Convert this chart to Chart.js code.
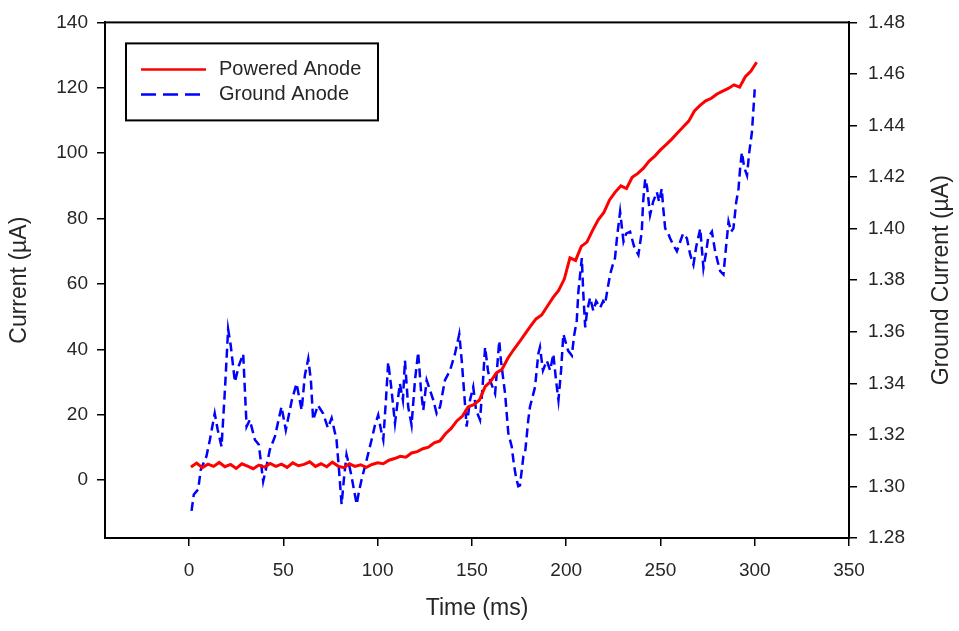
<!DOCTYPE html>
<html>
<head>
<meta charset="utf-8">
<script src="https://cdn.jsdelivr.net/npm/chart.js@4.4.1/dist/chart.umd.min.js"></script>
<style>
  html, body { margin: 0; padding: 0; background: #fff; }
</style>
</head>
<body>
<canvas id="graph" width="959" height="631"></canvas>
<script>
// powered anode (left axis, uA)
var poweredTime = [1,4,7,10,13,16,19,22,25,28,31,34,37,40,43,46,49,52,55,58,61,64,67,70,73,76,79,82,85,88,91,94,97,100,
  103,106,109,112,115,118,121,124,127,130,133,136,139,142,145,148,151,154,157,160,163,166,169,172,175,178,181,184,187,190,
  193,196,199,202,205,208,211,214,217,220,223,226,229,232,235,238,241,244,247,250,253,256,259,262,265,268,271,274,277,280,
  283,286,289,292,295,298,301];
var poweredCurrent = [4.0,5.2,3.8,4.9,4.2,5.4,4.1,4.8,3.6,5.0,4.3,3.5,4.6,4.0,5.1,4.2,4.9,3.9,5.3,4.4,4.8,5.6,4.2,5.0,4.1,5.5,
  4.3,3.8,5.0,4.2,4.7,3.9,4.8,5.3,5.0,6.1,6.6,7.3,7.0,8.3,8.7,9.6,10.1,11.4,12.0,14.2,15.8,18.1,19.6,22.4,23.1,24.5,28.6,30.2,
  32.8,33.9,37.2,39.8,42.1,44.6,47.0,49.3,50.5,53.2,55.8,58.0,61.5,68.0,67.2,71.5,72.8,76.4,79.6,81.9,85.7,88.1,90.0,89.2,
  92.6,93.8,95.4,97.6,99.1,101.0,102.6,104.3,106.2,108.0,109.8,112.9,114.6,116.0,116.8,118.1,119.0,119.8,120.9,120.2,123.4,
  125.1,127.8];

// ground anode (right axis, uA)
var groundTime = [1.3,2.5,4.8,6.2,9.2,11.0,13.6,15.2,17.2,19.0,20.7,22.1,24.3,26.4,28.7,30.5,32.2,34.9,37.0,39.3,40.7,42.8,
  45.5,49.0,51.3,54.5,57.0,59.7,61.4,63.2,64.6,65.8,68.3,71.1,73.6,75.6,78.2,79.5,80.9,82.1,83.5,84.8,86.2,87.4,88.9,90.1,
  91.5,93.8,96.8,98.6,100.3,101.8,103.0,104.4,105.6,107.1,109.2,111.8,113.4,114.5,116.2,118.0,119.8,121.5,123.0,124.2,126.0,
  127.8,129.5,131.3,133.1,135.7,138.4,141.0,143.3,144.6,145.8,147.2,149.0,150.7,152.2,154.3,155.9,157.0,158.5,159.6,162.3,
  164.5,165.4,167.6,169.3,171.1,172.3,173.4,174.6,175.5,177.3,178.2,179.9,180.8,183.5,185.2,186.1,187.7,189.7,191.5,193.2,
  194.6,195.9,197.3,198.5,201.0,203.0,204.2,205.6,206.5,208.3,209.0,210.1,211.1,212.7,214.4,215.9,218.0,219.6,220.6,222.2,
  223.3,224.9,225.9,227.0,228.6,230.4,231.8,233.9,236.0,238.3,240.1,240.8,241.9,242.9,244.5,246.1,248.1,249.3,250.7,251.4,
  252.5,254.1,255.1,256.7,258.7,260.5,262.0,264.0,265.8,267.5,269.0,271.1,272.8,274.3,275.3,277.3,279.0,280.6,281.7,283.4,
  284.3,286.1,287.5,288.7,290.2,291.4,292.3,293.2,294.4,295.9,297.1,298.5,299.2,300.0];
var groundCurrent = [1.2905,1.2969,1.2988,1.3065,1.3117,1.3180,1.3283,1.3219,1.3155,1.3373,1.3610,1.3546,1.3405,1.3469,
  1.3514,1.3232,1.3258,1.3181,1.3162,1.3020,1.3065,1.3142,1.3193,1.3309,1.3219,1.3335,1.3399,1.3296,1.3431,1.3495,1.3412,
  1.3258,1.3315,1.3283,1.3227,1.3265,1.3181,1.3065,1.2931,1.3027,1.3123,1.3085,1.3038,1.2988,1.2931,1.2981,1.3027,1.3092,
  1.3181,1.3238,1.3277,1.3219,1.3181,1.3335,1.3482,1.3392,1.3245,1.3399,1.3335,1.3488,1.3309,1.3238,1.3412,1.3520,1.3373,
  1.3296,1.3412,1.3373,1.3335,1.3283,1.3309,1.3412,1.3450,1.3514,1.3591,1.3488,1.3373,1.3232,1.3335,1.3386,1.3296,1.3258,
  1.3412,1.3540,1.3450,1.3412,1.3360,1.3565,1.3488,1.3360,1.3207,1.3155,1.3085,1.3035,1.3001,1.3004,1.3117,1.3130,1.3258,
  1.3309,1.3386,1.3514,1.3540,1.3450,1.3488,1.3450,1.3514,1.3412,1.3335,1.3450,1.3591,1.3527,1.3508,1.3585,1.3642,1.3758,
  1.3886,1.3758,1.3617,1.3681,1.3732,1.3681,1.3719,1.3693,1.3719,1.3707,1.3777,1.3822,1.3865,1.3886,1.3969,1.4065,1.3950,
  1.3981,1.3988,1.3931,1.3899,1.3988,1.4104,1.4193,1.4162,1.4053,1.4104,1.4142,1.4104,1.4155,1.4085,1.4001,1.3981,1.3963,
  1.3938,1.3912,1.3950,1.3981,1.3963,1.3899,1.3860,1.3931,1.4000,1.3847,1.3912,1.3965,1.3988,1.3912,1.3865,1.3835,1.3822,
  1.3892,1.4027,1.3988,1.4001,1.4104,1.4155,1.4238,1.4296,1.4238,1.4207,1.4296,1.4373,1.4450,1.4540];

var timeTicks = [0,50,100,150,200,250,300,350];
var currentTicks = [0,20,40,60,80,100,120,140];
var groundTicks = [1.28,1.30,1.32,1.34,1.36,1.38,1.40,1.42,1.44,1.46,1.48];

var labels = ['Powered Anode','Ground Anode'];

function pairs(xs, ys) {
  var out = [];
  for (var i in xs) out.push({x: xs[i], y: ys[i]});
  return out;
}

var FONT = '"Liberation Sans", Arial, sans-serif';
var TXT = '#262626';

var setTicks = function (list) {
  return function (scale) {
    scale.ticks = list.map(function (v) { return {value: v}; });
  };
};

// frame, inside legend and right title (needs bottom-to-top rotation)
var extras = {
  id: 'extras',
  afterDraw: function (chart) {
    var ctx = chart.ctx, a = chart.chartArea;
    ctx.save();
    ctx.strokeStyle = '#000';
    ctx.lineWidth = 2;
    ctx.strokeRect(a.left, a.top, a.right - a.left, a.bottom - a.top);

    // legend box
    var bx = a.left + 21, by = a.top + 21;
    ctx.strokeRect(bx, by, 252, 77);
    ctx.lineWidth = 2.5;
    ctx.strokeStyle = '#ff0000';
    ctx.beginPath(); ctx.moveTo(bx + 15, by + 26); ctx.lineTo(bx + 80, by + 26); ctx.stroke();
    ctx.strokeStyle = '#0000ff';
    ctx.setLineDash([15, 7]);
    ctx.beginPath(); ctx.moveTo(bx + 15, by + 51); ctx.lineTo(bx + 74, by + 51); ctx.stroke();
    ctx.setLineDash([]);
    ctx.fillStyle = TXT;
    ctx.font = '20px ' + FONT;
    ctx.textBaseline = 'middle';
    ctx.textAlign = 'left';
    ctx.fillText(labels[0], bx + 93, by + 26);
    ctx.fillText(labels[1], bx + 93, by + 51);

    // right axis title
    ctx.translate(942, (a.top + a.bottom) / 2);
    ctx.rotate(-Math.PI / 2);
    ctx.textAlign = 'center';
    ctx.font = '23px ' + FONT;
    ctx.fillText('Ground Current (\u00b5A)', 0, 0);
    ctx.restore();
  }
};

var tickGrid = {drawOnChartArea: false, drawTicks: true, tickLength: 8, color: '#000', lineWidth: 1.5};

var ctx = document.getElementById('graph');
var graph = new Chart(ctx, {
  type: 'line',
  data: {
    datasets: [
      {
        label: labels[0],
        data: pairs(poweredTime, poweredCurrent),
        yAxisID: 'y',
        borderColor: '#ff0000',
        borderWidth: 3,
        pointRadius: 0,
        tension: 0
      },
      {
        label: labels[1],
        data: pairs(groundTime, groundCurrent),
        yAxisID: 'y2',
        borderColor: '#0000ff',
        borderWidth: 2.5,
        borderDash: [9, 5],
        pointRadius: 0,
        tension: 0
      }
    ]
  },
  options: {
    responsive: false,
    animation: false,
    devicePixelRatio: 1,
    layout: {padding: {top: 19, left: 0, right: 0, bottom: 0}},
    plugins: {legend: {display: false}, tooltip: {enabled: false}},
    scales: {
      x: {
        type: 'linear',
        min: -44.6,
        max: 350,
        afterBuildTicks: setTicks(timeTicks),
        afterFit: function (s) { s.height = 93; },
        grid: tickGrid,
        border: {color: '#000', width: 2},
        ticks: {color: TXT, font: {family: FONT, size: 19}, padding: 13, maxRotation: 0},
        title: {display: true, text: 'Time (ms)', color: TXT, font: {family: FONT, size: 23}, padding: {top: 0, bottom: 9}}
      },
      y: {
        position: 'left',
        min: -17.7,
        max: 140,
        afterBuildTicks: setTicks(currentTicks),
        afterFit: function (s) { s.width = 105; },
        grid: tickGrid,
        border: {color: '#000', width: 2},
        ticks: {color: TXT, font: {family: FONT, size: 19}, padding: 9},
        title: {display: true, text: 'Current (\u00b5A)', color: TXT, font: {family: FONT, size: 23}, padding: {top: 6, bottom: 0}}
      },
      y2: {
        position: 'right',
        min: 1.28,
        max: 1.48,
        afterBuildTicks: setTicks(groundTicks),
        afterFit: function (s) { s.width = 110; },
        grid: tickGrid,
        border: {color: '#000', width: 2},
        ticks: {
          color: TXT, font: {family: FONT, size: 19}, padding: 11,
          callback: function (v) { return v.toFixed(2); }
        }
      }
    }
  },
  plugins: [extras]
});
</script>
</body>
</html>
